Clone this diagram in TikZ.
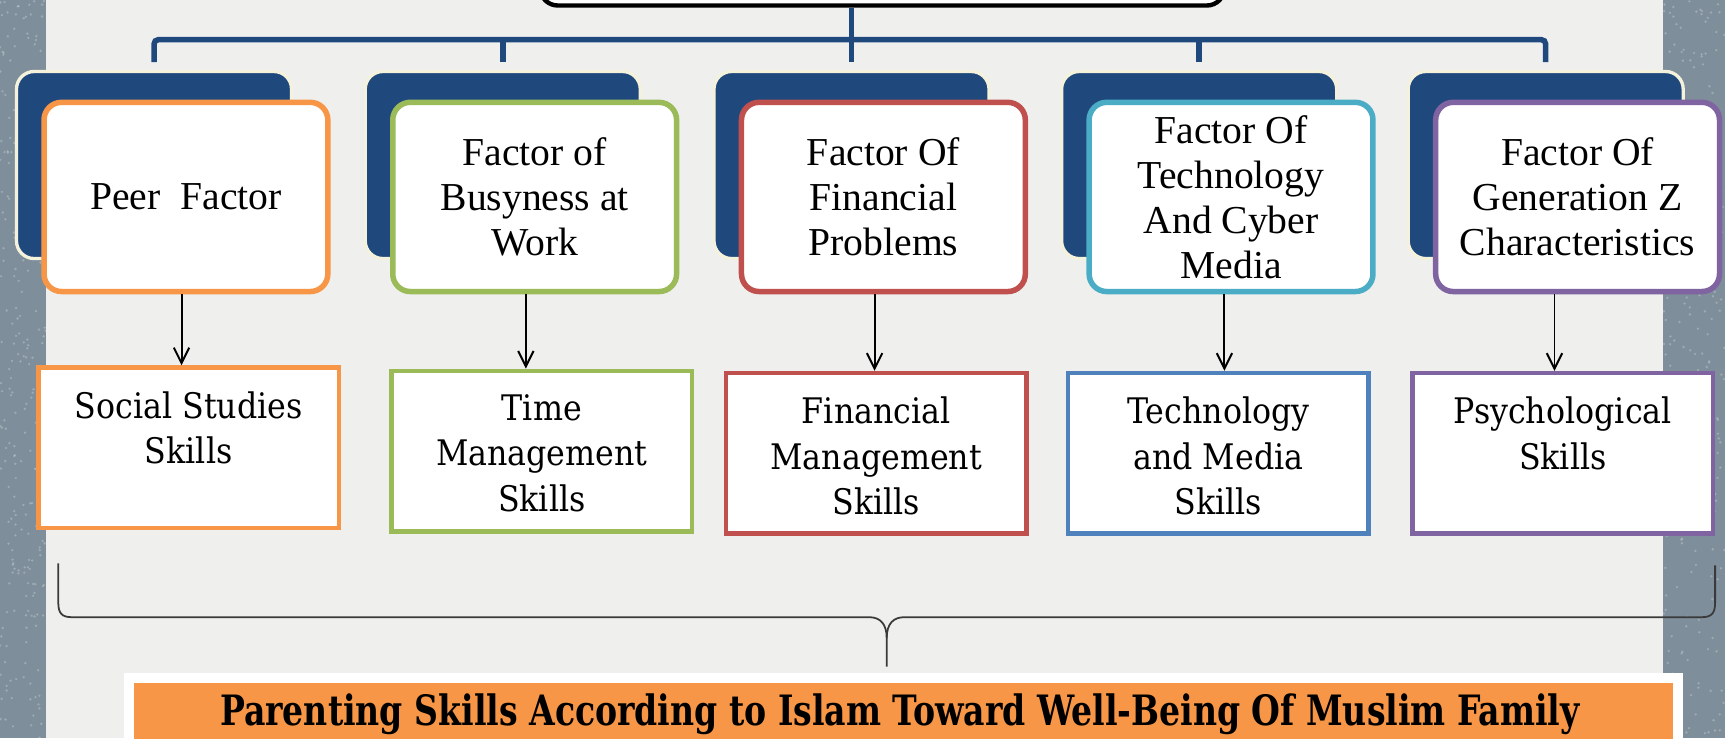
\documentclass[tikz,border=0pt]{standalone}
\usepackage{fontspec}
\setmainfont{Liberation Serif}
\newfontfamily\skillfont{DejaVu Serif Condensed}
\newfontfamily\goalfont{DejaVu Serif Condensed}[FakeStretch=0.88]
\usetikzlibrary{arrows.meta,calc}
\definecolor{blueD}{HTML}{1F497D}
\definecolor{creamC}{HTML}{F4F1DC}
\definecolor{orangeC}{HTML}{F79646}
\definecolor{greenC}{HTML}{9BBB59}
\definecolor{redC}{HTML}{C0504D}
\definecolor{cyanC}{HTML}{4BACC6}
\definecolor{purpleC}{HTML}{8064A2}
\definecolor{blueC}{HTML}{4F81BD}
\definecolor{panelC}{HTML}{EFEFEE}
\definecolor{stripC}{HTML}{7E8E9A}
\definecolor{braceC}{HTML}{3A3A3A}
\tikzset{
  backbox/.style={draw=creamC, line width=1.5pt, fill=blueD, rounded corners=8pt,
    minimum width=125pt, minimum height=85pt, anchor=north west, inner sep=0pt},
  frontbox/.style={draw=#1, line width=2.5pt, fill=white, rounded corners=8pt,
    minimum width=129pt, minimum height=86pt, anchor=north west, inner sep=0pt,
    align=center, font=\fontsize{18}{20.5}\selectfont},
  skillbox/.style={draw=#1, line width=2pt, fill=white,
    minimum width=136.5pt, minimum height=73pt, anchor=north west, inner sep=0pt,
    font=\skillfont\fontsize{16}{20.5}\selectfont},
  busline/.style={draw=blueD, line width=2.5pt},
  arr/.style={draw=black, line width=0.9pt, -{Straight Barb[length=7pt,width=7pt,line width=0.9pt]}},
  bracepath/.style={draw=braceC, line width=0.8pt},
}
\newcommand{\skilltext}[1]{\parbox[c][73pt][t]{134pt}{\vspace*{11pt}\centering #1\par}}
\begin{document}
\begin{tikzpicture}[x=0.5pt,y=-0.5pt]
\useasboundingbox (0,0) rectangle (1568,671);
\clip (0,0) rectangle (1568,671);
% background
\fill[stripC] (0,0) rectangle (1568,671);
\pgfmathsetseed{11}
\foreach \i in {1,...,260}{
  \pgfmathsetmacro\xx{rnd*42}
  \pgfmathsetmacro\yy{rnd*671}
  \fill[white,opacity=0.25] (\xx,\yy) circle (0.6pt);
  \pgfmathsetmacro\xr{1512+rnd*56}
  \pgfmathsetmacro\yr{rnd*671}
  \fill[white,opacity=0.25] (\xr,\yr) circle (0.6pt);
}
\fill[panelC] (42,0) rectangle (1512,671);

% top box
\node[draw=black, line width=2pt, fill=white, rounded corners=8pt,
      minimum width=311pt, minimum height=40pt, anchor=south, inner sep=0pt] (top) at (802,7) {};

% back boxes
\node[backbox] (b1) at (13.5,63.5) {};
\node[backbox] (b2) at (330.5,63.5) {};
\node[backbox] (b3) at (647.5,63.5) {};
\node[backbox] (b4) at (963.5,63.5) {};
\node[backbox] (b5) at (1278.5,63.5) {};

% bus lines
\coordinate (bus) at (0,36);
\draw[busline, rounded corners=2pt] ([yshift=3.5pt]b1.north) -- (b1.north |- bus) -- (b5.north |- bus) -- ([yshift=3.5pt]b5.north);
\draw[busline] ([yshift=3.5pt]b2.north) -- (b2.north |- bus);
\draw[busline] ([yshift=3.5pt]b4.north) -- (b4.north |- bus);
\draw[busline] ([yshift=3.5pt]b3.north) -- (b3.north |- top.south);

% front boxes
\node[frontbox=orangeC] (f1) at (37.5,90.5) {Peer\ \ Factor};
\node[frontbox=greenC]  (f2) at (354.5,90.5) {Factor of\\Busyness at\\Work};
\node[frontbox=redC]    (f3) at (671.5,90.5) {Factor Of\\Financial\\Problems};
\node[frontbox=cyanC]   (f4) at (987.5,90.5) {Factor Of\\Technology\\And Cyber\\Media};
\node[frontbox=purpleC] (f5) at (1302.5,90.5) {Factor Of\\Generation Z\\Characteristics};

% skill boxes
\node[skillbox=orangeC] (s1) at (33,332) {\skilltext{Social Studies\\Skills}};
\node[skillbox=greenC]  (s2) at (354,335) {\skilltext{Time\\Management\\Skills}};
\node[skillbox=redC]    (s3) at (658,337) {\skilltext{Financial\\Management\\Skills}};
\node[skillbox=blueC]   (s4) at (969,337) {\skilltext{Technology\\and Media\\Skills}};
\node[skillbox=purpleC] (s5) at (1282,337) {\skilltext{Psychological\\Skills}};

% arrows
\draw[arr] ([xshift=-2pt]f1.south) -- ([xshift=-2pt]f1.south |- s1.north);
\draw[arr] ([xshift=-4pt]f2.south) -- ([xshift=-4pt]f2.south |- s2.north);
\draw[arr] ([xshift=-4pt]f3.south) -- ([xshift=-4pt]f3.south |- s3.north);
\draw[arr] ([xshift=-3pt]f4.south) -- ([xshift=-3pt]f4.south |- s4.north);
\draw[arr] ([xshift=-10.5pt]f5.south) -- ([xshift=-10.5pt]f5.south |- s5.north);

% goal box
\node[draw=white, line width=4.5pt, fill=orangeC, minimum width=704pt, minimum height=45pt,
      anchor=north west, inner sep=0pt] (goal) at (113,612) {};
\node[inner sep=0pt, anchor=base, font=\goalfont\bfseries\fontsize{19}{22}\selectfont] (goaltext) at (818,659)
      {Parenting Skills According to Islam Toward Well-Being Of Muslim Family};

% brace
\coordinate (tip) at (806,606);
\coordinate (bl) at (53,512);
\coordinate (br) at (1559,514);
\draw[bracepath] (bl) -- (53,548) .. controls (53,557) and (56,561) .. (65,561)
  -- (790,561) .. controls (800,561) and (806,567) .. (806,580) -- (tip);
\draw[bracepath] (806,580) .. controls (806,567) and (812,561) .. (822,561)
  -- (1547,561) .. controls (1556,561) and (1559,557) .. (1559,548) -- (br);
\end{tikzpicture}
\end{document}
